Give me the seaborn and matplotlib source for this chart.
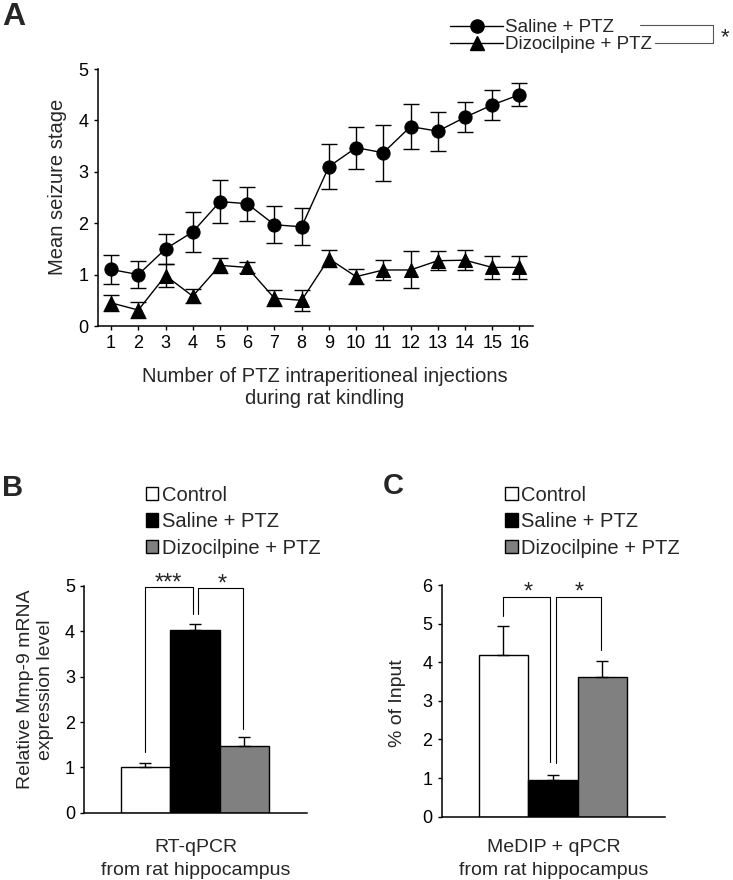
import matplotlib
matplotlib.use("Agg")
import matplotlib.pyplot as plt
from matplotlib.lines import Line2D
from matplotlib.patches import Patch
import numpy as np
import pandas as pd
import seaborn as sns

# ---------------- data ----------------
injections = list(range(1, 17))
saline_mean = [1.10, 1.00, 1.50, 1.83, 2.42, 2.38, 1.97, 1.93, 3.10, 3.47, 3.37, 3.88, 3.79, 4.06, 4.30, 4.50]
saline_sem = [0.28, 0.27, 0.29, 0.39, 0.42, 0.33, 0.36, 0.36, 0.44, 0.41, 0.55, 0.44, 0.38, 0.29, 0.30, 0.22]
dizo_mean = [0.45, 0.31, 0.98, 0.58, 1.18, 1.14, 0.54, 0.50, 1.31, 0.96, 1.09, 1.09, 1.27, 1.28, 1.14, 1.14]
dizo_sem = [0.16, 0.16, 0.22, 0.14, 0.15, 0.10, 0.16, 0.20, 0.17, 0.15, 0.19, 0.36, 0.19, 0.20, 0.23, 0.23]

groups = ["Control", "Saline + PTZ", "Dizocilpine + PTZ"]
rt_mean = [1.00, 4.02, 1.47]
rt_sem = [0.09, 0.14, 0.21]
medip_mean = [4.20, 0.96, 3.61]
medip_sem = [0.73, 0.11, 0.42]
group_colors = ["white", "black", "#808080"]

# ---------------- style ----------------
sns.set_style("ticks")
plt.rcParams["font.family"] = ["Liberation Sans", "DejaVu Sans"]
plt.rcParams["axes.linewidth"] = 1.1
plt.rcParams["xtick.major.width"] = 1.0
plt.rcParams["ytick.major.width"] = 1.0
plt.rcParams["xtick.major.size"] = 3.2
plt.rcParams["ytick.major.size"] = 3.2
plt.rcParams["xtick.color"] = "black"
plt.rcParams["ytick.color"] = "black"
plt.rcParams["axes.edgecolor"] = "black"

W, H = 733, 880
fig = plt.figure(figsize=(W / 100, H / 100), dpi=100)


def box(l, r, b, t):
    return [l / W, 1 - b / H, (r - l) / W, (b - t) / H]


TICK_FS = 13
LAB_FS = 14

# ---------------- panel A ----------------
axA = fig.add_axes(box(97.5, 533, 326, 69))
dfA = pd.DataFrame({"inj": injections * 2,
                    "stage": saline_mean + dizo_mean,
                    "group": ["Saline + PTZ"] * 16 + ["Dizocilpine + PTZ"] * 16})
sns.lineplot(data=dfA[dfA.group == "Saline + PTZ"], x="inj", y="stage", color="black",
             marker="o", markersize=9.5, linewidth=1.0, markeredgecolor="black", ax=axA,
             errorbar=None)
sns.lineplot(data=dfA[dfA.group == "Dizocilpine + PTZ"], x="inj", y="stage", color="black",
             marker="^", markersize=9.5, linewidth=1.0, markeredgecolor="black", ax=axA,
             errorbar=None)
axA.errorbar(injections, saline_mean, yerr=saline_sem, fmt="none", ecolor="black",
             elinewidth=1.0, capsize=6, capthick=1.0)
axA.errorbar(injections, dizo_mean, yerr=dizo_sem, fmt="none", ecolor="black",
             elinewidth=1.0, capsize=6, capthick=1.0)
axA.set_xlim(0.5, 16.5)
axA.set_ylim(0, 5)
axA.set_xticks(injections)
axA.set_yticks(range(0, 6))
axA.tick_params(labelsize=TICK_FS)
axA.set_ylabel("Mean seizure stage", fontsize=14.5, labelpad=8)
axA.yaxis.label.set_y(0.54)
axA.set_xlabel("Number of PTZ intraperitioneal injections\nduring rat kindling",
               fontsize=14.5, linespacing=1.22)
axA.xaxis.set_label_coords(0.522, -0.158)
sns.despine(ax=axA)

hA = [Line2D([], [], color="black", marker="o", markersize=9.5, linewidth=1.0),
      Line2D([], [], color="black", marker="^", markersize=9.5, linewidth=1.0)]
fig.legend(hA, ["Saline + PTZ", "Dizocilpine + PTZ"], loc="upper left",
           bbox_to_anchor=(450 / W, 1 - 19 / H), frameon=False, fontsize=13.5,
           handlelength=2.83, handletextpad=0.1, labelspacing=0.0,
           borderpad=0, borderaxespad=0)
fig.add_artist(Line2D([x / W for x in [640, 713, 713, 655]],
                      [1 - y / H for y in [25, 25, 43.5, 43.5]],
                      transform=fig.transFigure, color="#555555", linewidth=0.8))
fig.text(725 / W, 1 - 43 / H, "*", fontsize=16, ha="center", va="baseline")

# ---------------- bar panels ----------------
def bar_panel(rect, means, sems, ymax, ylabel, xlabel, labelpad, xlabelpad, label_y,
              brackets, stars):
    ax = fig.add_axes(rect)
    sns.barplot(x=groups, y=means, hue=groups, palette=group_colors, width=1.0,
                edgecolor="black", linewidth=1.0, legend=False, ax=ax, errorbar=None)
    ax.errorbar(range(3), means, yerr=[np.zeros(3), sems], fmt="none", ecolor="black",
                elinewidth=1.0, capsize=4.5, capthick=1.0)
    for xs, ys in brackets:
        ax.plot(xs, ys, color="black", linewidth=0.8)
    for x, y, s in stars:
        ax.text(x, y, s, fontsize=17, ha="center", va="baseline")
    ax.set_ylim(0, ymax)
    ax.set_yticks(range(0, ymax + 1))
    ax.set_xticks([])
    ax.tick_params(labelsize=TICK_FS)
    ax.set_ylabel(ylabel, fontsize=LAB_FS, labelpad=labelpad, linespacing=1.2)
    ax.yaxis.label.set_y(label_y)
    ax.set_xlabel(xlabel, fontsize=LAB_FS, linespacing=1.43, labelpad=xlabelpad)
    sns.despine(ax=ax)
    return ax


axB = bar_panel(box(84.3, 307, 812.7, 586), rt_mean, rt_sem, 5,
                "Relative Mmp-9 mRNA\nexpression level", "RT-qPCR\nfrom rat hippocampus",
                8, 19, 0.544,
                [([0, 0, 0.96, 0.96], [1.33, 4.97, 4.97, 4.39]),
                 ([1.06, 1.06, 1.97, 1.97], [4.39, 4.95, 4.95, 1.85])],
                [(0.47, 4.93, "***"), (1.55, 4.91, "*")])
axB.set_xlim(-1.236, 3.263)

axC = bar_panel(box(441.7, 665, 816.7, 585), medip_mean, medip_sem, 6,
                "% of Input", "MeDIP + qPCR\nfrom rat hippocampus", 12, 16, 0.49,
                [([0, 0, 0.94, 0.94], [5.20, 5.70, 5.70, 1.42]),
                 ([1.07, 1.07, 1.98, 1.98], [1.39, 5.70, 5.70, 4.31])],
                [(0.5, 5.66, "*"), (1.54, 5.66, "*")])
axC.set_xlim(-1.248, 3.263)

hBar = [Patch(facecolor=c, edgecolor="black", linewidth=1.0) for c in group_colors]
for xa in [145.7, 505]:
    fig.legend(hBar, groups, loc="upper left", bbox_to_anchor=(xa / W, 1 - 485.5 / H),
               frameon=False, fontsize=14.5, handlelength=0.63, handleheight=0.63,
               handletextpad=0.18, labelspacing=0.38, borderpad=0, borderaxespad=0)

# ---------------- panel letters ----------------
fig.text(2 / W, 1 - 17 / H, "A", fontsize=23, fontweight="bold", va="center", ha="left")
fig.text(2 / W, 1 - 488 / H, "B", fontsize=21, fontweight="bold", va="center", ha="left")
fig.text(383 / W, 1 - 486 / H, "C", fontsize=21, fontweight="bold", va="center", ha="left")

fig.savefig("out.png", dpi=100)
